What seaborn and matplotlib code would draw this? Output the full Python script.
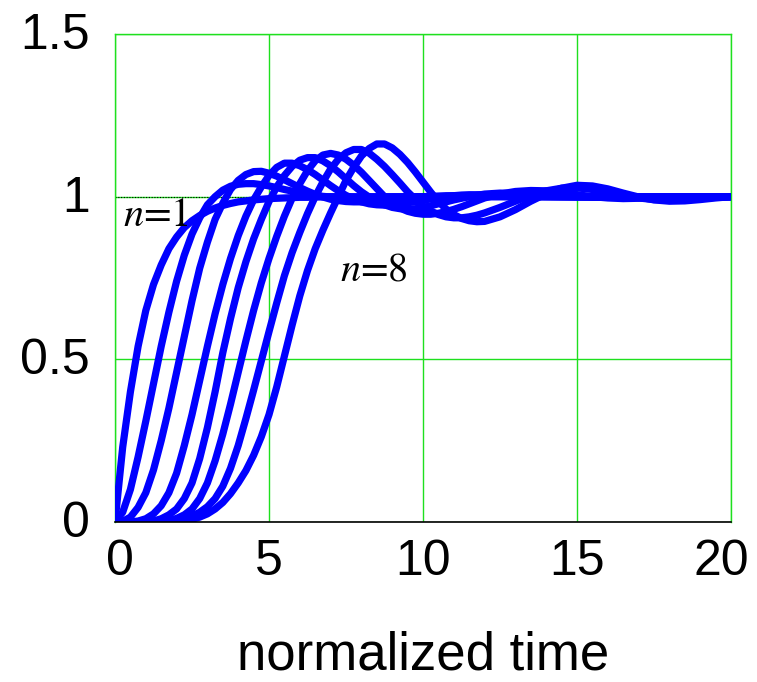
import numpy as np
import pandas as pd
import matplotlib
matplotlib.use("Agg")
import matplotlib.pyplot as plt
import matplotlib.transforms as mtransforms
import seaborn as sns

# sample times (normalized): quarter steps up to 12, half steps to 20
t = np.concatenate([np.arange(0, 12.001, 0.25), np.arange(12.5, 20.001, 0.5)])

# step responses for filter order n = 1 ... 8
# first rows of each block: t = 0 ... 12 (49 samples), last row: t = 12.5 ... 20 (16 samples)
resp_n1 = [0, 0.23, 0.40, 0.54, 0.65, 0.73, 0.79, 0.84, 0.876, 0.905,
           0.926, 0.942, 0.955, 0.965, 0.973, 0.979, 0.984, 0.987, 0.99, 0.992,
           0.994, 0.995, 0.996, 0.997, 0.998, 0.998, 0.999, 0.999, 1.0, 1.0,
           1.0, 1.0, 1.0, 1.0, 1.0, 1.0, 1.0, 1.0, 1.0, 1.0,
           1.0, 1.0, 1.0, 1.0, 1.0, 1.0, 1.0, 1.0, 1.0,
           1.0, 1.0, 1.0, 1.0, 1.0, 1.0, 1.0, 1.0, 1.0, 1.0, 1.0, 1.0, 1.0, 1.0, 1.0, 1.0]
resp_n2 = [0, 0.03, 0.10, 0.20, 0.31, 0.425, 0.54, 0.645, 0.74, 0.82,
           0.885, 0.935, 0.975, 1.0, 1.02, 1.032, 1.038, 1.04, 1.04, 1.037,
           1.033, 1.028, 1.022, 1.017, 1.012, 1.008, 1.004, 1.001, 0.999, 0.998,
           0.997, 0.997, 0.997, 0.997, 0.998, 0.998, 0.999, 0.999, 1.0, 1.0,
           1.0, 1.0, 1.0, 1.0, 1.0, 1.0, 1.0, 1.0, 1.0,
           1.0, 1.0, 1.0, 1.0, 1.0, 1.0, 1.0, 1.0, 1.0, 1.0, 1.0, 1.0, 1.0, 1.0, 1.0, 1.0]
resp_n3 = [0, 0.002, 0.015, 0.045, 0.09, 0.16, 0.25, 0.35, 0.46, 0.57,
           0.68, 0.78, 0.86, 0.93, 0.98, 1.022, 1.05, 1.068, 1.077, 1.078,
           1.072, 1.063, 1.052, 1.04, 1.028, 1.017, 1.007, 0.999, 0.992, 0.988,
           0.985, 0.984, 0.984, 0.985, 0.987, 0.989, 0.992, 0.995, 0.997, 0.999,
           1.0, 1.001, 1.002, 1.003, 1.003, 1.003, 1.003, 1.003, 1.002,
           1.001, 1.0, 1.0, 1.0, 1.0, 1.0, 1.0, 1.0, 1.0, 1.0, 1.0, 1.0, 1.0, 1.0, 1.0, 1.0]
resp_n4 = [0, 0, 0, 0.003, 0.01, 0.025, 0.05, 0.09, 0.15, 0.235,
           0.33, 0.435, 0.54, 0.64, 0.73, 0.81, 0.88, 0.94, 0.99, 1.03,
           1.065, 1.09, 1.103, 1.103, 1.095, 1.083, 1.068, 1.051, 1.034, 1.018,
           1.004, 0.993, 0.984, 0.978, 0.975, 0.974, 0.975, 0.977, 0.981, 0.985,
           0.989, 0.993, 0.997, 1.0, 1.003, 1.005, 1.006, 1.006, 1.006,
           1.005, 1.003, 1.001, 1.0, 0.999, 0.999, 0.999, 1.0, 1.0, 1.0, 1.0, 1.0, 1.0, 1.0, 1.0, 1.0]
resp_n5 = [0, 0, 0, 0, 0, 0.003, 0.01, 0.022, 0.04, 0.072,
           0.12, 0.195, 0.29, 0.40, 0.52, 0.625, 0.72, 0.80, 0.87, 0.93,
           0.985, 1.03, 1.065, 1.093, 1.112, 1.12, 1.12, 1.11, 1.095, 1.076,
           1.055, 1.034, 1.015, 0.999, 0.985, 0.975, 0.967, 0.963, 0.962, 0.963,
           0.967, 0.972, 0.978, 0.984, 0.99, 0.995, 1.0, 1.004, 1.008,
           1.011, 1.01, 1.007, 1.004, 1.001, 0.999, 0.998, 0.998, 0.998, 0.999, 1.0, 1.0, 1.0, 1.0, 1.0, 1.0]
resp_n6 = [0, 0, 0, 0, 0, 0, 0.002, 0.005, 0.011, 0.022,
           0.04, 0.072, 0.12, 0.188, 0.27, 0.362, 0.46, 0.557, 0.65, 0.735,
           0.81, 0.878, 0.94, 0.995, 1.04, 1.08, 1.11, 1.128, 1.133, 1.128,
           1.115, 1.097, 1.075, 1.05, 1.025, 1.0, 0.98, 0.965, 0.955, 0.949,
           0.946, 0.946, 0.949, 0.954, 0.961, 0.969, 0.978, 0.987, 0.996,
           1.008, 1.016, 1.019, 1.018, 1.013, 1.006, 1.0, 0.996, 0.994, 0.995, 0.997, 0.999, 1.0, 1.0, 1.0, 1.0]
resp_n7 = [0, 0, 0, 0, 0, 0, 0, 0.002, 0.005, 0.01,
           0.018, 0.03, 0.047, 0.072, 0.11, 0.165, 0.235, 0.318, 0.405, 0.495,
           0.585, 0.673, 0.757, 0.828, 0.89, 0.948, 1.0, 1.045, 1.085, 1.115,
           1.135, 1.145, 1.145, 1.134, 1.115, 1.093, 1.068, 1.042, 1.015, 0.992,
           0.972, 0.956, 0.945, 0.938, 0.935, 0.935, 0.938, 0.943, 0.95,
           0.967, 0.986, 1.004, 1.018, 1.026, 1.027, 1.022, 1.013, 1.004, 0.996, 0.991, 0.99, 0.992, 0.995, 0.998, 1.0]
resp_n8 = [0, 0, 0, 0, 0, 0, 0, 0, 0.002, 0.004,
           0.008, 0.015, 0.025, 0.04, 0.06, 0.087, 0.12, 0.158, 0.205, 0.262,
           0.33, 0.415, 0.51, 0.605, 0.695, 0.773, 0.84, 0.897, 0.95, 1.0,
           1.05, 1.09, 1.125, 1.148, 1.162, 1.162, 1.15, 1.13, 1.105, 1.076,
           1.045, 1.014, 0.985, 0.962, 0.945, 0.933, 0.926, 0.923, 0.924,
           0.938, 0.96, 0.986, 1.009, 1.026, 1.035, 1.033, 1.024, 1.011, 0.999, 0.99, 0.986, 0.987, 0.991, 0.996, 1.0]

orders = [1, 2, 3, 4, 5, 6, 7, 8]
responses = [resp_n1, resp_n2, resp_n3, resp_n4, resp_n5, resp_n6, resp_n7, resp_n8]

x_ticks = [0, 5, 10, 15, 20]
x_tick_labels = ["0", "5", "10", "15", "20"]
y_ticks = [0, 0.5, 1, 1.5]
y_tick_labels = ["0", "0.5", "1", "1.5"]

df = pd.concat(
    [pd.DataFrame({"t": t, "v": r, "n": n}) for n, r in zip(orders, responses)],
    ignore_index=True,
)

sns.set_style("white")
plt.rcParams["font.family"] = ["Liberation Sans", "DejaVu Sans"]
plt.rcParams["mathtext.fontset"] = "stix"
for key in ("text.color", "axes.labelcolor", "xtick.color", "ytick.color"):
    plt.rcParams[key] = "black"

fig = plt.figure(figsize=(7.57, 6.82), dpi=100)
ax = fig.add_axes([115 / 757, 1 - 522 / 682, (731 - 115) / 757, (522 - 34) / 682])

grid_green = "#1ee01e"
ax.axhline(1.0, color="black", lw=0.8, ls=(0, (1, 1.5)), zorder=1)

sns.lineplot(data=df, x="t", y="v", units="n", estimator=None, color="#0000ff",
             lw=5.2, ax=ax, legend=False, zorder=3)

ax.set_xlim(0, 20)
ax.set_ylim(0, 1.5)
ax.set_xticks(x_ticks)
ax.set_xticklabels(x_tick_labels)
ax.set_yticks(y_ticks)
ax.set_yticklabels(y_tick_labels)
ax.grid(True, color=grid_green, lw=1.0)
ax.set_axisbelow(True)
for side in ("left", "top", "right"):
    ax.spines[side].set_color(grid_green)
    ax.spines[side].set_linewidth(1.0)
ax.spines["bottom"].set_color("black")
ax.spines["bottom"].set_linewidth(1.2)
ax.spines["bottom"].set_zorder(4)
ax.tick_params(axis="both", length=0, labelsize=36)
ax.tick_params(axis="x", pad=12)
ax.tick_params(axis="y", pad=18)

# nudge the end labels inward and lift the y labels slightly
xlabels = ax.get_xticklabels()
xlabels[0].set_transform(xlabels[0].get_transform()
                         + mtransforms.ScaledTranslation(5 / 100, 0, fig.dpi_scale_trans))
xlabels[-1].set_transform(xlabels[-1].get_transform()
                          + mtransforms.ScaledTranslation(-10 / 100, 0, fig.dpi_scale_trans))
for lab in ax.get_yticklabels():
    lab.set_transform(lab.get_transform()
                      + mtransforms.ScaledTranslation(0, 3 / 100, fig.dpi_scale_trans))

# axis title sits with its baseline close to the bottom edge of the figure
ax.set_xlabel("normalized time", fontsize=38, va="baseline")
ax.xaxis.set_label_coords(0.5, -(669 - 522) / 488)
ax.set_ylabel("")

ax.text(0.26, 0.911, "$n$=1", fontsize=29, family="STIXGeneral", va="baseline", zorder=5)
ax.text(7.3, 0.742, "$n$=8", fontsize=29, family="STIXGeneral", va="baseline", zorder=5)

fig.savefig("out.png", dpi=100)
